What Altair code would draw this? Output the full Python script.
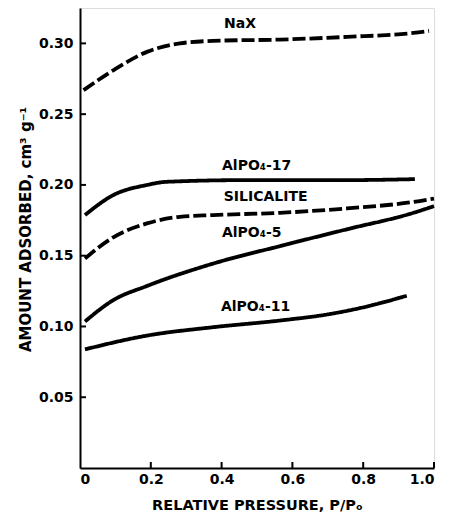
import altair as alt
import pandas as pd

# ---- data ----
nax_x = [0.01, 0.094, 0.189, 0.282, 0.376, 0.565, 0.754, 0.942, 0.986]
nax_y = [0.267, 0.281, 0.294, 0.300, 0.3018, 0.3027, 0.3046, 0.3074, 0.3088]

a17_x = [0.014, 0.094, 0.188, 0.245, 0.47, 0.754, 0.946]
a17_y = [0.1787, 0.1928, 0.1999, 0.2022, 0.2034, 0.2034, 0.2041]

sil_x = [0.014, 0.094, 0.189, 0.282, 0.376, 0.565, 0.754, 0.942, 1.0]
sil_y = [0.148, 0.163, 0.1728, 0.1775, 0.1787, 0.1803, 0.1834, 0.188, 0.1904]

a5_x = [0.014, 0.094, 0.188, 0.377, 0.565, 0.753, 0.942, 1.0]
a5_y = [0.1035, 0.1186, 0.1285, 0.1445, 0.1568, 0.1686, 0.1803, 0.185]

a11_x = [0.014, 0.188, 0.377, 0.565, 0.706, 0.8, 0.923]
a11_y = [0.0838, 0.0935, 0.0995, 0.1042, 0.1088, 0.1135, 0.1217]

series_names = ["NaX", "AlPO4-17", "SILICALITE", "AlPO4-5", "AlPO4-11"]
series_styles = ["dashed", "solid", "dashed", "solid", "solid"]

label_text = ["NaX", "AlPO₄-17", "SILICALITE", "AlPO₄-5", "AlPO₄-11"]
label_x = [0.452, 0.499, 0.5245, 0.485, 0.496]
label_y = [0.3136, 0.2135, 0.1914, 0.166, 0.1139]

x_ticks = [0, 0.2, 0.4, 0.6, 0.8, 1.0]
y_ticks = [0.05, 0.10, 0.15, 0.20, 0.25, 0.30]

# ---- build table ----
rows = []
for name, style, xs, ys in zip(series_names, series_styles,
                               [nax_x, a17_x, sil_x, a5_x, a11_x],
                               [nax_y, a17_y, sil_y, a5_y, a11_y]):
    for i, (xv, yv) in enumerate(zip(xs, ys)):
        rows.append({"series": name, "style": style, "x": xv, "y": yv, "order": i})
df = pd.DataFrame(rows)
labels = pd.DataFrame({"text": label_text, "x": label_x, "y": label_y})

W, H = 354, 460
FONT = "DejaVu Sans"

xscale = alt.Scale(domain=[0, 1.0], nice=False)
yscale = alt.Scale(domain=[0, 0.325], nice=False, zero=True)

lines = alt.Chart(df).mark_line(interpolate="monotone", color="black", strokeWidth=3.8).encode(
    x=alt.X("x:Q", scale=xscale,
            axis=alt.Axis(values=x_ticks, title="RELATIVE PRESSURE, P/Pₒ",
                          labelExpr="datum.value == 0 ? '0' : format(datum.value, '.1f')",
                          ticks=False, grid=False, domainColor="black", domainWidth=2,
                          labelFont=FONT, labelFontSize=14, labelFontWeight="bold", labelColor="black",
                          labelPadding=4, titleFont=FONT, titleFontSize=14.5, titleFontWeight="bold",
                          titleColor="black", titlePadding=12)),
    y=alt.Y("y:Q", scale=yscale,
            axis=alt.Axis(values=y_ticks, format=".2f", title="AMOUNT ADSORBED, cm³ g⁻¹",
                          ticks=False, grid=False, domainColor="black", domainWidth=2,
                          labelFont=FONT, labelFontSize=14, labelFontWeight="bold", labelColor="black",
                          labelPadding=7, titleFont=FONT, titleFontSize=15, titleFontWeight="bold",
                          titleColor="black", titleAngle=270, titleX=-55, titleY=221,
                          titleAlign="center", titleBaseline="middle")),
    detail="series:N",
    order="order:Q",
    strokeDash=alt.StrokeDash("style:N", scale=alt.Scale(domain=["dashed", "solid"],
                                                          range=[[13, 4], [1, 0]]), legend=None),
)

texts = alt.Chart(labels).mark_text(font=FONT, fontSize=14, fontWeight="bold", color="black",
                                    align="center", baseline="middle").encode(
    x=alt.X("x:Q", scale=xscale), y=alt.Y("y:Q", scale=yscale), text="text:N")

ytick_df = pd.DataFrame({"v": y_ticks})
xtick_df = pd.DataFrame({"v": x_ticks[1:]})
yticks = alt.Chart(ytick_df).mark_rule(color="black", strokeWidth=2).encode(
    y=alt.Y("v:Q", scale=yscale), x=alt.value(0), x2=alt.value(6))
xticks = alt.Chart(xtick_df).mark_rule(color="black", strokeWidth=2).encode(
    x=alt.X("v:Q", scale=xscale), y=alt.value(H), y2=alt.value(H - 6))

chart = alt.layer(lines, texts, yticks, xticks).properties(
    width=W, height=H,
    autosize=alt.AutoSizeParams(type="none"),
    padding={"left": 72, "top": 0, "right": 10, "bottom": 50},
).configure_view(stroke=None).configure(background="white")

chart.save("out.html", embed_options={"renderer": "svg", "actions": False})
